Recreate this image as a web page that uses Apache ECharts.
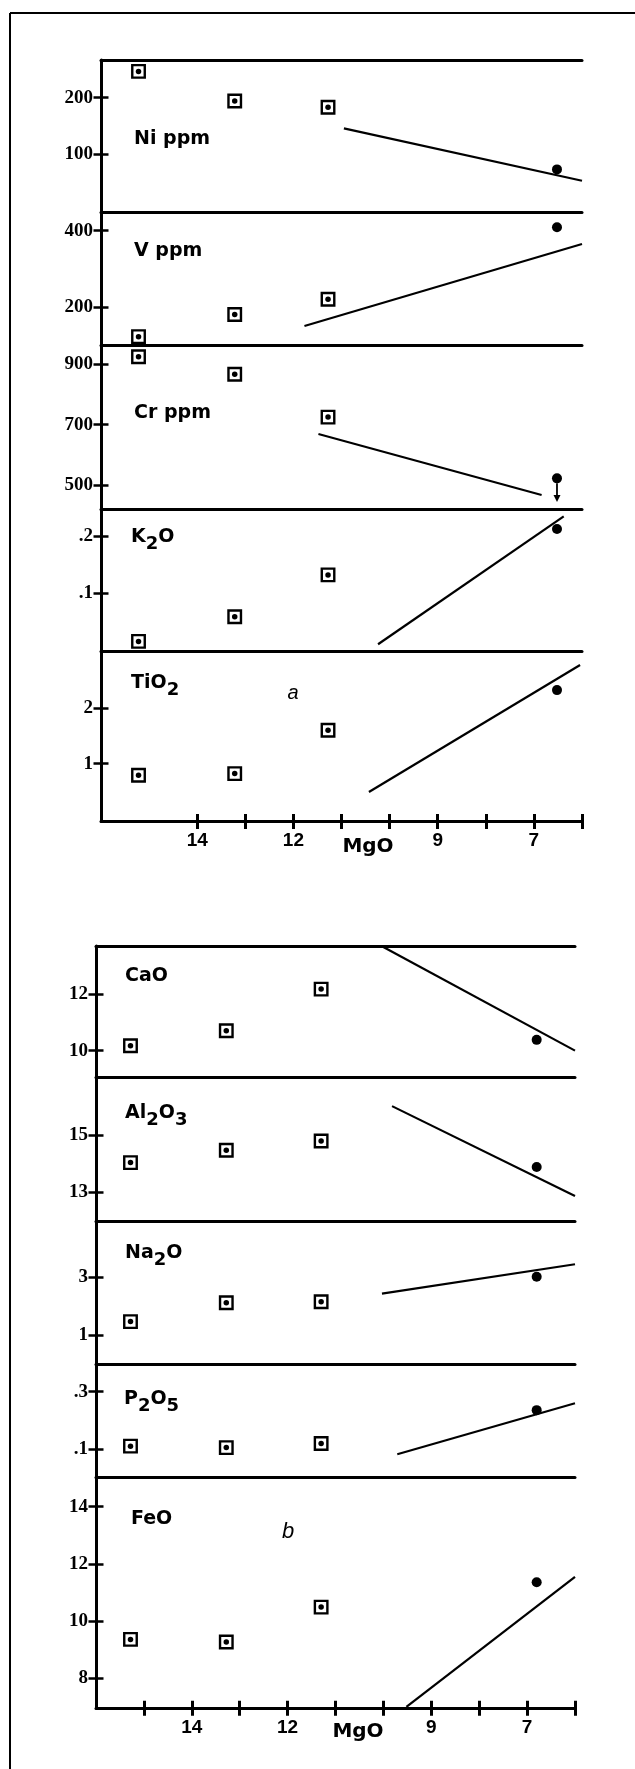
<!DOCTYPE html>
<html>
<head>
<meta charset="utf-8">
<script src="https://cdn.jsdelivr.net/npm/echarts@6/dist/echarts.min.js"></script>
<style>
  html, body { margin: 0; padding: 0; background: #fff; }
  #chart { width: 635px; height: 1769px; }
</style>
</head>
<body>
<div id="chart"></div>
<script>
// MgO of the three olivine-rich samples (squares) and of the basalt (dot)
const mgoSquaresA = [15.22, 13.22, 11.28];
const mgoSquaresB = [15.28, 13.28, 11.3];
const mgoDotA = 6.52;
const mgoDotB = 6.8;

// MgO axis
const mgoTicksA = [14, 13, 12, 11, 10, 9, 8, 7, 6];
const mgoTicksB = [15, 14, 13, 12, 11, 10, 9, 8, 7, 6];
const mgoLabels = [14, 12, 9, 7];

// panel a
const niTicks = [200, 100];
const niSquares = [246, 194, 183];
const niDot = 74;
const niTrend = [[10.95, 146], [6.0, 54]];

const vTicks = [400, 200];
const vSquares = [122, 180, 220];
const vDot = 409;
const vTrend = [[11.77, 150], [6.0, 365]];

const crTicks = [900, 700, 500];
const crSquares = [925, 867, 725];
const crDot = 522;
const crTrend = [[11.48, 669], [6.84, 467]];
const crArrow = [[6.52, 506], [6.52, 455]];

const k2oTicks = [0.2, 0.1];
const k2oSquares = [0.016, 0.059, 0.132];
const k2oDot = 0.212;
const k2oTrend = [[10.24, 0.011], [6.38, 0.234]];

const tio2Ticks = [2, 1];
const tio2Squares = [0.79, 0.82, 1.6];
const tio2Dot = 2.32;
const tio2Trend = [[10.43, 0.49], [6.04, 2.77]];

// panel b
const caoTicks = [12, 10];
const caoSquares = [10.17, 10.7, 12.17];
const caoDot = 10.38;
const caoTrend = [[10.05, 13.7], [6.0, 10.0]];

const al2o3Ticks = [15, 13];
const al2o3Squares = [14.04, 14.47, 14.79];
const al2o3Dot = 13.89;
const al2o3Trend = [[9.82, 16.0], [6.0, 12.88]];

const na2oTicks = [3, 1];
const na2oSquares = [1.46, 2.11, 2.14];
const na2oDot = 3.0;
const na2oTrend = [[10.03, 2.42], [6.0, 3.43]];

const p2o5Ticks = [0.3, 0.1];
const p2o5Squares = [0.111, 0.106, 0.12];
const p2o5Dot = 0.236;
const p2o5Trend = [[9.71, 0.083], [6.0, 0.26]];

const feoTicks = [14, 12, 10, 8];
const feoSquares = [9.36, 9.27, 10.49];
const feoDot = 11.36;
const feoTrend = [[9.52, 7.0], [6.0, 11.55]];

const BLACK = "#000";
const LABEL_FONT = "'DejaVu Sans', sans-serif";
const TICK_FONT = "'Liberation Serif', serif";
const HALF_TICK = 7.5;

const groups = {
  a: { left: 101, width: 481, mgo: mgoSquaresA, dot: mgoDotA, ticks: mgoTicksA },
  b: { left: 96, width: 479, mgo: mgoSquaresB, dot: mgoDotB, ticks: mgoTicksB },
};

// one strip per element, stacked like the paper figure
const panels = [
  { g: "a", top: 60, bottom: 212.7, min: -2, max: 266, ticks: niTicks, sq: niSquares, dot: niDot, trend: niTrend, label: "{n|Ni ppm}", lx: 134, ly: 130, first: true },
  { g: "a", top: 212.7, bottom: 345, min: 100.1, max: 447, ticks: vTicks, sq: vSquares, dot: vDot, trend: vTrend, label: "{n|V ppm}", lx: 134, ly: 242 },
  { g: "a", top: 345, bottom: 509, min: 420.5, max: 964, ticks: crTicks, sq: crSquares, dot: crDot, trend: crTrend, label: "{n|Cr ppm}", lx: 134, ly: 404, arrow: crArrow },
  { g: "a", top: 509, bottom: 651.7, min: -0.002, max: 0.247, ticks: k2oTicks, sq: k2oSquares, dot: k2oDot, trend: k2oTrend, label: "{n|K}{s|2}{n|O}", lx: 131, ly: 528 },
  { g: "a", top: 651.7, bottom: 821.5, min: -0.04, max: 3.01, ticks: tio2Ticks, sq: tio2Squares, dot: tio2Dot, trend: tio2Trend, label: "{n|TiO}{s|2}", lx: 131, ly: 674, last: true },
  { g: "b", top: 946, bottom: 1077.3, min: 9.06, max: 13.69, ticks: caoTicks, sq: caoSquares, dot: caoDot, trend: caoTrend, label: "{n|CaO}", lx: 125, ly: 967, first: true },
  { g: "b", top: 1077.3, bottom: 1221.7, min: 11.99, max: 17.0, ticks: al2o3Ticks, sq: al2o3Squares, dot: al2o3Dot, trend: al2o3Trend, label: "{n|Al}{s|2}{n|O}{s|3}", lx: 125, ly: 1104 },
  { g: "b", top: 1221.7, bottom: 1364, min: 0.005, max: 4.89, ticks: na2oTicks, sq: na2oSquares, dot: na2oDot, trend: na2oTrend, label: "{n|Na}{s|2}{n|O}", lx: 125, ly: 1244 },
  { g: "b", top: 1364, bottom: 1477.3, min: 0.003, max: 0.396, ticks: p2o5Ticks, sq: p2o5Squares, dot: p2o5Dot, trend: p2o5Trend, label: "{n|P}{s|2}{n|O}{s|5}", lx: 124, ly: 1390 },
  { g: "b", top: 1477.3, bottom: 1708.3, min: 6.95, max: 15.03, ticks: feoTicks, sq: feoSquares, dot: feoDot, trend: feoTrend, label: "{n|FeO}", lx: 131, ly: 1510, last: true },
];

function fmt(v) {
  return v < 1 ? String(v).replace(/^0/, "") : String(v);
}

const chart = echarts.init(document.getElementById("chart"));
const grids = [], xAxes = [], yAxes = [], series = [], graphics = [];

const rich = {
  n: { fontFamily: LABEL_FONT, fontWeight: "bold", fontSize: 19, color: BLACK },
  s: { fontFamily: LABEL_FONT, fontWeight: "bold", fontSize: 18, color: BLACK, padding: [13, 0, 0, 0] },
};

panels.forEach((p, i) => {
  const g = groups[p.g];
  grids.push({ left: g.left, width: g.width, top: p.top, height: p.bottom - p.top, outerBoundsMode: "none" });

  const xi = xAxes.length;
  xAxes.push({
    type: "value", gridIndex: i, min: 6, max: 16, inverse: true, position: "bottom",
    axisLine: { show: true, onZero: false, lineStyle: { color: BLACK, width: 3 } },
    axisTick: { show: false },
    axisLabel: { show: false },
    splitLine: { show: false },
  });
  if (p.last) {
    // hidden line shifted up half a tick, so the long ticks cross the real axis
    xAxes.push({
      type: "value", gridIndex: i, min: 6, max: 16, inverse: true, position: "bottom", offset: -HALF_TICK,
      axisLine: { show: false, onZero: false },
      axisTick: { show: true, customValues: g.ticks, length: 2 * HALF_TICK, lineStyle: { color: BLACK, width: 3 } },
      axisLabel: {
        show: true, customValues: mgoLabels, margin: 10 + HALF_TICK,
        fontFamily: "'Liberation Sans', sans-serif", fontWeight: "bold", fontSize: 19, color: BLACK,
      },
      splitLine: { show: false },
    });
  }
  if (p.first) {
    xAxes.push({
      type: "value", gridIndex: i, min: 6, max: 16, inverse: true, position: "top",
      axisLine: { show: true, onZero: false, lineStyle: { color: BLACK, width: 3 } },
      axisTick: { show: false }, axisLabel: { show: false }, splitLine: { show: false },
    });
  }

  const yi = yAxes.length;
  yAxes.push({
    type: "value", gridIndex: i, min: p.min, max: p.max, position: "left",
    axisLine: { show: true, onZero: false, lineStyle: { color: BLACK, width: 3 } },
    axisTick: { show: false }, axisLabel: { show: false }, splitLine: { show: false },
  });
  yAxes.push({
    type: "value", gridIndex: i, min: p.min, max: p.max, position: "left", offset: -HALF_TICK,
    axisLine: { show: false, onZero: false },
    axisTick: { show: true, customValues: p.ticks, length: 2 * HALF_TICK, lineStyle: { color: BLACK, width: 2.5 } },
    axisLabel: {
      customValues: p.ticks, formatter: fmt, margin: 8 + HALF_TICK,
      fontFamily: TICK_FONT, fontWeight: "bold", fontSize: 19, color: BLACK,
    },
    splitLine: { show: false },
  });

  const sqData = p.sq.map((v, j) => [g.mgo[j], v]);
  series.push({
    type: "scatter", xAxisIndex: xi, yAxisIndex: yi, data: sqData,
    symbol: "rect", symbolSize: 12.5, z: 3,
    itemStyle: { color: "#fff", borderColor: BLACK, borderWidth: 2.4, opacity: 1 },
  });
  series.push({
    type: "scatter", xAxisIndex: xi, yAxisIndex: yi, data: sqData,
    symbol: "circle", symbolSize: 5.5, z: 4, itemStyle: { color: BLACK, opacity: 1 },
  });
  series.push({
    type: "scatter", xAxisIndex: xi, yAxisIndex: yi, data: [[g.dot, p.dot]],
    symbol: "circle", symbolSize: 10, z: 4, itemStyle: { color: BLACK, opacity: 1 },
  });
  series.push({
    type: "line", xAxisIndex: xi, yAxisIndex: yi, data: p.trend,
    symbol: "none", z: 2, lineStyle: { color: BLACK, width: 2.2 },
  });
  if (p.arrow) {
    series.push({
      type: "line", xAxisIndex: xi, yAxisIndex: yi, z: 4, showSymbol: true,
      data: [
        { value: p.arrow[0], symbol: "none" },
        { value: p.arrow[1], symbol: "triangle", symbolSize: [7, 7], symbolRotate: 180 },
      ],
      lineStyle: { color: BLACK, width: 1.8 }, itemStyle: { color: BLACK, opacity: 1 },
    });
  }

  graphics.push({
    type: "text", left: p.lx, top: p.ly, z: 10,
    style: { text: p.label, rich: rich, verticalAlign: "middle", y: 0 },
  });
});

// outer frame of the figure
graphics.push({ type: "line", shape: { x1: 10, y1: 13, x2: 635, y2: 13 }, style: { stroke: BLACK, lineWidth: 2 } });
graphics.push({ type: "line", shape: { x1: 10, y1: 13, x2: 10, y2: 1769 }, style: { stroke: BLACK, lineWidth: 2 } });

// panel letters and MgO axis titles
const italic = { fontFamily: "'Liberation Sans', sans-serif", fontStyle: "italic", fontSize: 20, fill: BLACK };
graphics.push({ type: "text", x: 293, y: 693, style: Object.assign({ text: "a", align: "center", verticalAlign: "middle" }, italic) });
graphics.push({ type: "text", x: 288, y: 1532, style: Object.assign({ text: "b", align: "center", verticalAlign: "middle" }, italic, { fontSize: 22 }) });
const mgoStyle = { text: "MgO", fontFamily: LABEL_FONT, fontWeight: "bold", fontSize: 20, fill: BLACK, align: "center", verticalAlign: "middle" };
graphics.push({ type: "text", x: 368, y: 847, style: mgoStyle });
graphics.push({ type: "text", x: 358, y: 1732, style: Object.assign({}, mgoStyle) });

chart.setOption({
  animation: false,
  backgroundColor: "#fff",
  grid: grids,
  xAxis: xAxes,
  yAxis: yAxes,
  series: series,
  graphic: graphics,
});
</script>
</body>
</html>
